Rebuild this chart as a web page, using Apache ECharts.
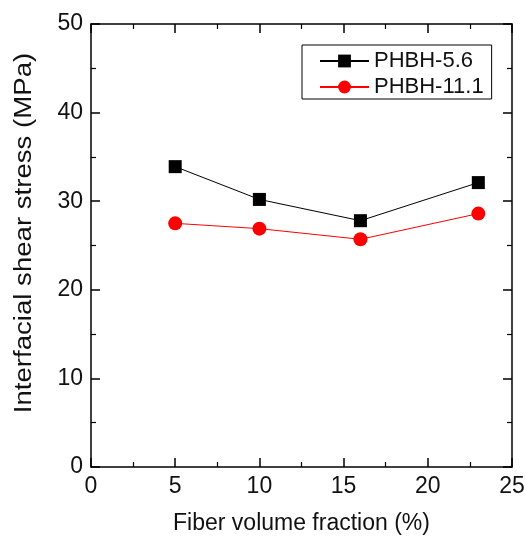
<!DOCTYPE html>
<html><head><meta charset="utf-8">
<script src="https://cdn.jsdelivr.net/npm/echarts@6/dist/echarts.min.js"></script>
<style>html,body{margin:0;padding:0;background:#fff}#c{width:525px;height:537px}</style>
</head><body><div id="c"></div>
<script>
const xValues = [5, 10, 16, 23];
const phbh56 = [33.9, 30.2, 27.8, 32.1];
const phbh111 = [27.5, 26.9, 25.7, 28.6];
const seriesNames = ['PHBH-5.6', 'PHBH-11.1'];
const xTitle = 'Fiber volume fraction (%)';
const yTitle = 'Interfacial shear stress (MPa)';

const font = 'Liberation Sans, Arial, sans-serif';
const chart = echarts.init(document.getElementById('c'));
const axisCommon = {
  axisLine: {show: true, onZero: false, lineStyle: {color: '#000', width: 1.5}},
  axisTick: {show: true, inside: true, length: 9, lineStyle: {color: '#000', width: 1.5}},
  minorTick: {show: true, splitNumber: 2, length: 5, lineStyle: {color: '#000', width: 1.2}},
  splitLine: {show: false}
};
chart.setOption({
  animation: false,
  grid: {left: 91, top: 24, right: 13, bottom: 70, containLabel: false, outerBoundsMode: 'none'},
  legend: {
    orient: 'vertical', left: 302, top: 45,
    borderColor: '#000', borderWidth: 1, borderRadius: 0,
    padding: [5, 8, 1, 17], itemGap: 4, itemWidth: 49, itemHeight: 16, itemTextGap: 7,
    textStyle: {fontFamily: font, fontSize: 22, color: '#111'},
    data: seriesNames
  },
  graphic: [{
    type: 'text', x: 25, y: 233, rotation: Math.PI / 2, scaleX: 1.2,
    style: {text: yTitle, font: '23px ' + font, fill: '#111', textAlign: 'center', textVerticalAlign: 'middle'}
  }],
  xAxis: [
    Object.assign({type: 'value', min: 0, max: 25, interval: 5, position: 'bottom',
      name: xTitle, nameLocation: 'middle', nameGap: 45,
      nameTextStyle: {fontFamily: font, fontSize: 23, color: '#111'},
      axisLabel: {margin: 8, fontFamily: font, fontSize: 23, color: '#111'}}, axisCommon),
    Object.assign({type: 'value', min: 0, max: 25, interval: 5, position: 'top',
      axisLabel: {show: false}}, axisCommon)
  ],
  yAxis: [
    Object.assign({type: 'value', min: 0, max: 50, interval: 10, position: 'left',
      axisLabel: {margin: 8, fontFamily: font, fontSize: 23, color: '#111'}}, axisCommon),
    Object.assign({type: 'value', min: 0, max: 50, interval: 10, position: 'right',
      axisLabel: {show: false}}, axisCommon)
  ],
  series: [
    {name: seriesNames[0], type: 'line', symbol: 'rect', symbolSize: 13,
      data: xValues.map((x, i) => [x, phbh56[i]]),
      lineStyle: {color: '#000', width: 1}, itemStyle: {color: '#000'}},
    {name: seriesNames[1], type: 'line', symbol: 'circle', symbolSize: 14,
      data: xValues.map((x, i) => [x, phbh111[i]]),
      lineStyle: {color: '#ff0000', width: 1}, itemStyle: {color: '#ff0000'}}
  ]
});
</script></body></html>
